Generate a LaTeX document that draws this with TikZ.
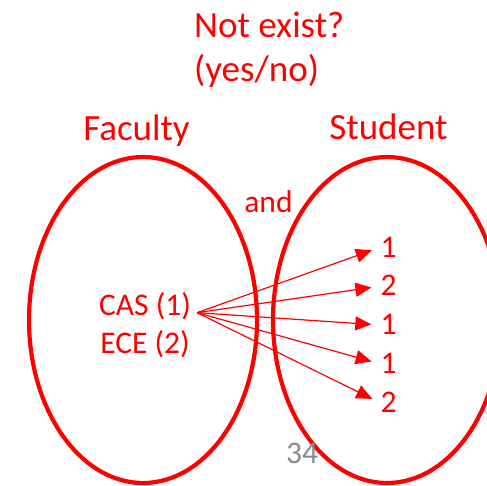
\documentclass[tikz,border=0pt]{standalone}
\usepackage{fontspec}
\setmainfont{Carlito}
\usetikzlibrary{positioning,arrows.meta}
\definecolor{pagegray}{RGB}{137,137,137}

\begin{document}
\begin{tikzpicture}[
		x=1pt,y=-1pt,
		node distance=19pt,
		every node/.style={
			text=red,
			inner sep=0pt,
			font=\fontsize{31.5}{36}\selectfont
		},
		big/.style={font=\fontsize{37}{42}\selectfont},
		num/.style={text height=19.5pt, text depth=0pt},
		set/.style={draw=red, line width=4.2pt},
		arr/.style={draw=red, line width=1.2pt,
			-{Triangle[length=16pt,width=14pt]}, shorten >=9pt}
		]
		\useasboundingbox (0,0) rectangle (487,485);
		
		% the two sets
		\draw[set] (143,320) ellipse [x radius=114, y radius=163];
		\draw[set] (387,320) ellipse [x radius=114, y radius=163];
		
		\node[big, anchor=base west] (query) at (194,37) {Not exist?};
		\node[big, anchor=base west] (yesno) at ([yshift=-44pt]query.base west) {(yes/no)};
		
		\node[big, anchor=base] (faculty) at (136.5,140) {Faculty};
		\node[big, anchor=base] (student) at (388.5,139) {Student};
		\node[anchor=base] (and) at (268.5,212) {and};
		
		\node[anchor=base] (cas) at (145,315) {CAS (1)};
		\node[anchor=base] (ece) at (145,353) {ECE (2)};
		
		\node[num, anchor=base] (n1) at (388.5,257) {1};
		\node[num] (n2) [below=of n1] {2};
		\node[num] (n3) [below=of n2] {1};
		\node[num] (n4) [below=of n3] {1};
		\node[num] (n5) [below=of n4] {2};
		
		\coordinate (src) at ([xshift=6pt,yshift=-7pt]cas.east);
		\foreach \n in {n1,n2,n3,n4,n5}
			\draw[arr] (src) -- (\n.west);
		
		\node[anchor=base, text=pagegray] (page) at (302,463) {34};
		
	\end{tikzpicture}
\end{document}
